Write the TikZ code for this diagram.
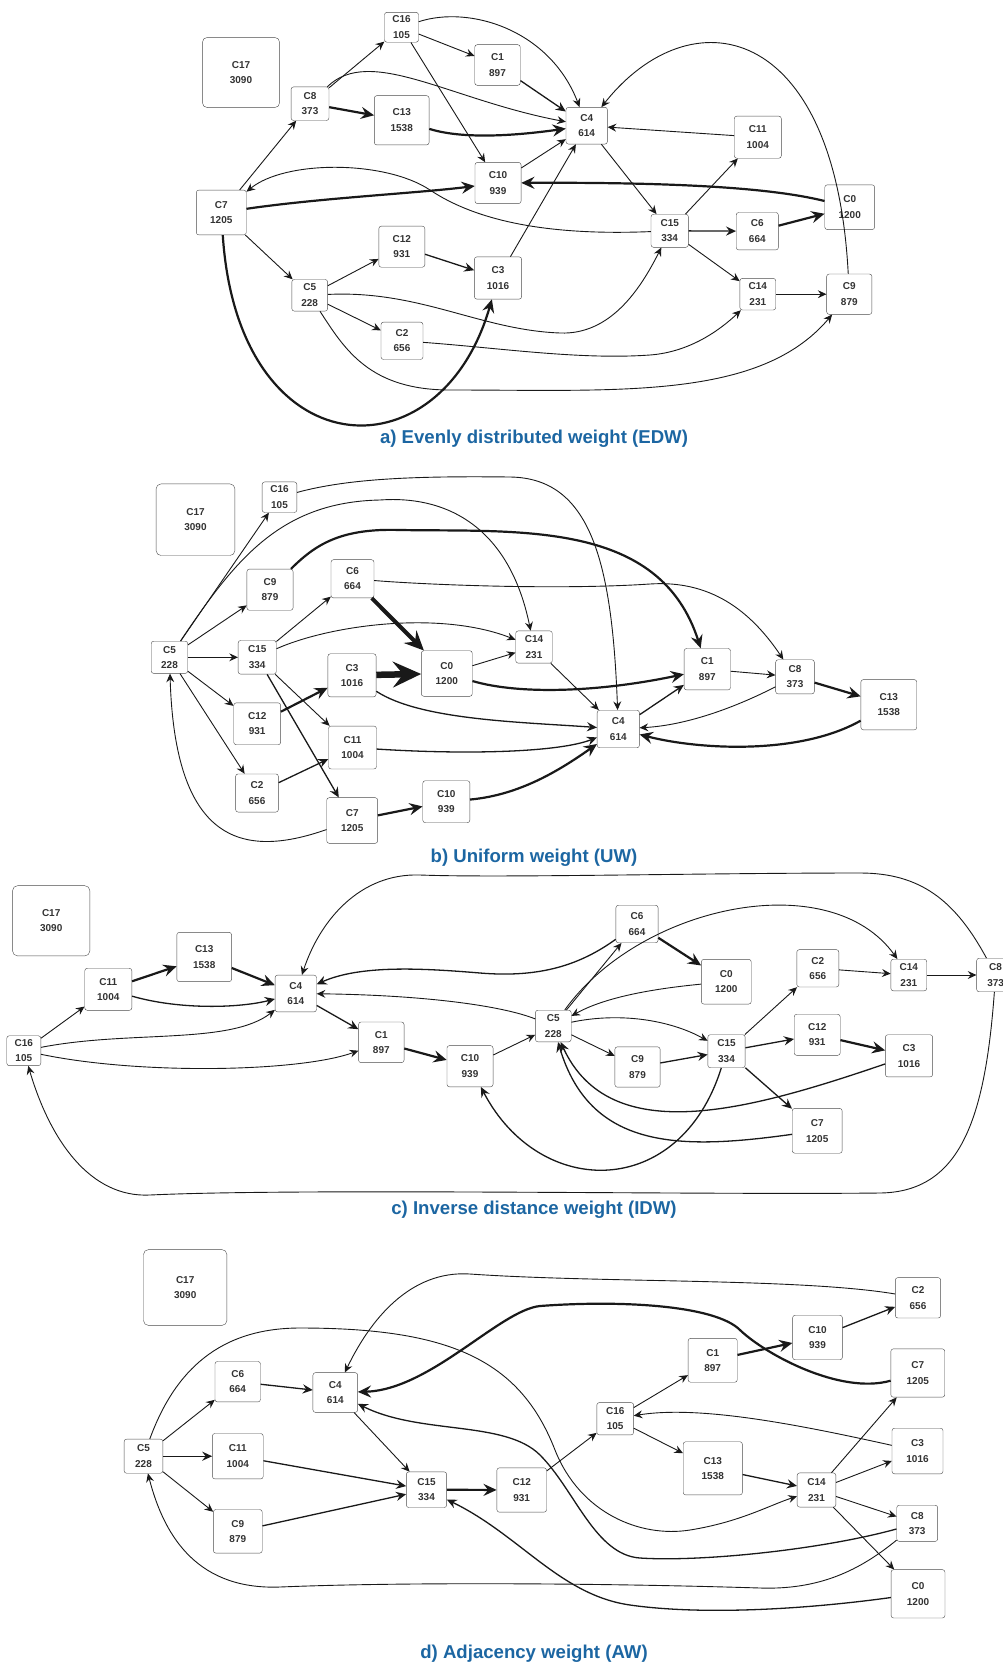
\documentclass[tikz,border=0pt]{standalone}
\usepackage{fontspec}
\setmainfont{Liberation Sans}
\usepackage{xcolor}
\usepackage{tikz}
\usetikzlibrary{arrows.meta}

\definecolor{capblue}{RGB}{28,102,162}
\newcommand{\cbxscale}{1}
\newcommand{\cnfont}{\fontsize{10}{15.5}\selectfont\bfseries}
\newcommand{\cpfont}{\fontsize{18.6}{22}\selectfont\bfseries}

\begin{document}
\begin{tikzpicture}[x=1pt, y=-1pt,
  cbox/.style={draw=black!70, fill=white, rounded corners=2.5pt, inner sep=0pt,
               align=center, font=\cnfont, text=black!80,
               minimum width={\cbxscale*(32.5pt+0.0145pt*#1)},
               minimum height={\cbxscale*(28.5pt+0.0135pt*#1)}},
  bigbox/.style={rounded corners=5pt},
  arr/.style={-{Stealth[length=5.5pt 3.5, width=5pt 3.2, inset=1.8pt 1.3]},
              line width=0.9pt, black!90},
  arrm/.style={arr, line width=1.3pt},
  arrt/.style={arr, line width=2.2pt},
  arrx/.style={arr, line width=4pt},
  arrxx/.style={arr, line width=6.5pt},
  captxt/.style={anchor=base, font=\cpfont, text=capblue}
]
\useasboundingbox (0,0) rectangle (1003,1662);

% Panel a: EDW
\node[cbox=3090, bigbox] (a17) at (241,72.5) {C17\\3090};
\node[cbox=373] (a8) at (310,103.7) {C8\\373};
\node[cbox=105] (a16) at (401.5,27.3) {C16\\105};
\node[cbox=897] (a1) at (497.5,65) {C1\\897};
\node[cbox=1538] (a13) at (401.7,120.3) {C13\\1538};
\node[cbox=614] (a4) at (586.7,125.7) {C4\\614};
\node[cbox=939] (a10) at (498,183) {C10\\939};
\node[cbox=1205] (a7) at (221.3,212.5) {C7\\1205};
\node[cbox=931] (a12) at (401.8,246.7) {C12\\931};
\node[cbox=1016] (a3) at (498,278) {C3\\1016};
\node[cbox=228] (a5) at (309.7,295.3) {C5\\228};
\node[cbox=656] (a2) at (402,340.8) {C2\\656};
\node[cbox=1004] (a11) at (757.8,137.2) {C11\\1004};
\node[cbox=1200] (a0) at (849.7,207.2) {C0\\1200};
\node[cbox=334] (a15) at (669.7,230.8) {C15\\334};
\node[cbox=664] (a6) at (757.3,231.2) {C6\\664};
\node[cbox=231] (a14) at (757.8,294.2) {C14\\231};
\node[cbox=879] (a9) at (849.3,294.2) {C9\\879};

\draw[arr] (a7) -- (a8);
\draw[arr] (a8) -- (a16);
\draw[arrt] (a8) -- (a13);
\draw[arr] (a8) .. controls (370,45) and (450,100) .. (a4);
\draw[arr] (a16) -- (a1);
\draw[arr] (a16) .. controls (470,5) and (550,30) .. (a4);
\draw[arr] (a16) -- (a10);
\draw[arrm] (a1) -- (a4);
\draw[arrt] (a13) .. controls (465,140) and (520,135) .. (a4);
\draw[arr] (a10) -- (a4);
\draw[arr] (a3) -- (a4);
\draw[arrt] (a7) .. controls (320,198) and (420,193) .. (a10);
\draw[arr] (a15) .. controls (545,236) and (475,220) .. (430,190)
  .. controls (385,160) and (285,160) .. (a7);
\draw[arrt] (a0) .. controls (780,190) and (700,182) .. (a10);
\draw[arrt] (a7) .. controls (238,470) and (440,480) .. (a3);
\draw[arr] (a5) -- (a12);
\draw[arrm] (a12) -- (a3);
\draw[arr] (a5) -- (a2);
\draw[arr] (a7) -- (a5);
\draw[arr] (a5) .. controls (420,290) and (480,330) .. (560,333)
  .. controls (610,335) and (640,290) .. (a15);
\draw[arr] (a2) .. controls (500,348) and (580,360) .. (650,355)
  .. controls (690,352) and (720,330) .. (a14);
\draw[arr] (a5) .. controls (345,350) and (370,390) .. (450,390)
  .. controls (620,390) and (760,400) .. (a9);
\draw[arr] (a9) .. controls (835,20) and (690,-5) .. (a4);
\draw[arr] (a11) -- (a4);
\draw[arr] (a4) -- (a15);
\draw[arr] (a15) -- (a11);
\draw[arrm] (a15) -- (a6);
\draw[arrt] (a6) -- (a0);
\draw[arr] (a15) -- (a14);
\draw[arr] (a14) -- (a9);

\node[captxt] (capa) at (534,443) {a) Evenly distributed weight (EDW)};

% Panel b: UW
\begin{scope}
\renewcommand{\cbxscale}{1.02}
\node[cbox=3090, bigbox] (b17) at (195.5,519.7) {C17\\3090};
\node[cbox=105] (b16) at (279.5,497.2) {C16\\105};
\node[cbox=879] (b9) at (270,589.7) {C9\\879};
\node[cbox=664] (b6) at (352.5,578.8) {C6\\664};
\node[cbox=228] (b5) at (169.5,657.3) {C5\\228};
\node[cbox=334] (b15) at (257.2,657.3) {C15\\334};
\node[cbox=1016] (b3) at (352,675.3) {C3\\1016};
\node[cbox=1200] (b0) at (446.8,673.5) {C0\\1200};
\node[cbox=231] (b14) at (534,647) {C14\\231};
\node[cbox=931] (b12) at (257.2,723.8) {C12\\931};
\node[cbox=1004] (b11) at (352.5,747.5) {C11\\1004};
\node[cbox=656] (b2) at (257,793) {C2\\656};
\node[cbox=1205] (b7) at (352.2,820.5) {C7\\1205};
\node[cbox=939] (b10) at (446.3,801.7) {C10\\939};
\node[cbox=614] (b4) at (618.3,729) {C4\\614};
\node[cbox=897] (b1) at (707.3,669.2) {C1\\897};
\node[cbox=373] (b8) at (795,676.8) {C8\\373};
\node[cbox=1538] (b13) at (888.8,704.7) {C13\\1538};
\end{scope}

\draw[arr] (b5) -- (b16);
\draw[arr] (b5) .. controls (235,560) and (280,502) .. (380,500)
  .. controls (450,495) and (510,530) .. (b14);
\draw[arr] (b16) .. controls (350,478) and (420,476) .. (510,477)
  .. controls (590,478) and (612,560) .. (b4);
\draw[arr] (b5) -- (b9);
\draw[arr] (b5) -- (b15);
\draw[arr] (b5) -- (b12);
\draw[arr] (b5) -- (b2);
\draw[arr] (b7) .. controls (240,860) and (175,840) .. (b5);
\draw[arrt] (b9) .. controls (315,545) and (340,528) .. (400,530)
  .. controls (520,532) and (660,520) .. (b1);
\draw[arr] (b6) .. controls (430,585) and (560,590) .. (650,584)
  .. controls (710,580) and (750,610) .. (b8);
\draw[arrx] (b6) -- (b0);
\draw[arr] (b15) -- (b6);
\draw[arr] (b15) .. controls (330,625) and (440,610) .. (b14);
\draw[arr] (b15) -- (b11);
\draw[arrm] (b15) -- (b7);
\draw[arrt] (b12) -- (b3);
\draw[arrm] (b2) -- (b11);
\draw[arrxx] (b3) -- (b0);
\draw[arr] (b0) -- (b14);
\draw[arrt] (b0) .. controls (520,695) and (600,692) .. (b1);
\draw[arrm] (b3) .. controls (420,720) and (520,722) .. (b4);
\draw[arrm] (b11) .. controls (470,755) and (560,752) .. (b4);
\draw[arrt] (b10) .. controls (520,795) and (560,770) .. (b4);
\draw[arrt] (b7) -- (b10);
\draw[arr] (b14) -- (b4);
\draw[arrm] (b4) -- (b1);
\draw[arr] (b1) -- (b8);
\draw[arrt] (b8) -- (b13);
\draw[arr] (b8) .. controls (740,705) and (690,725) .. (b4);
\draw[arrt] (b13) .. controls (800,755) and (700,750) .. (b4);

\node[captxt] (capb) at (534,862) {b) Uniform weight (UW)};

% Panel c: IDW
\node[cbox=3090, bigbox] (c17) at (51.2,920.8) {C17\\3090};
\node[cbox=1538] (c13) at (204.2,957) {C13\\1538};
\node[cbox=1004] (c11) at (108.3,989.3) {C11\\1004};
\node[cbox=614] (c4) at (295.8,993.5) {C4\\614};
\node[cbox=105] (c16) at (23.8,1050.7) {C16\\105};
\node[cbox=897] (c1) at (381.3,1042.3) {C1\\897};
\node[cbox=939] (c10) at (470,1066.2) {C10\\939};
\node[cbox=664] (c6) at (637,924) {C6\\664};
\node[cbox=1200] (c0) at (726.3,981.7) {C0\\1200};
\node[cbox=228] (c5) at (553.3,1026) {C5\\228};
\node[cbox=879] (c9) at (637.5,1067) {C9\\879};
\node[cbox=334] (c15) at (726.5,1051.2) {C15\\334};
\node[cbox=656] (c2) at (817.8,968.3) {C2\\656};
\node[cbox=931] (c12) at (817.2,1034.8) {C12\\931};
\node[cbox=1205] (c7) at (817.2,1130.8) {C7\\1205};
\node[cbox=231] (c14) at (908.8,975) {C14\\231};
\node[cbox=1016] (c3) at (909,1055.8) {C3\\1016};
\node[cbox=373] (c8) at (995.6,975) {C8\\373};

\draw[arr] (c16) -- (c11);
\draw[arrt] (c11) -- (c13);
\draw[arrt] (c13) -- (c4);
\draw[arrm] (c11) .. controls (180,1010) and (240,1008) .. (c4);
\draw[arr] (c16) .. controls (130,1030) and (230,1045) .. (c4);
\draw[arr] (c16) .. controls (140,1075) and (300,1072) .. (c1);
\draw[arrm] (c4) -- (c1);
\draw[arrt] (c1) -- (c10);
\draw[arr] (c10) -- (c5);
\draw[arrm] (c15) .. controls (680,1200) and (540,1200) .. (c10);
\draw[arr] (c8) .. controls (955,900) and (920,873) .. (860,873)
  .. controls (700,873) and (500,878) .. (420,875)
  .. controls (360,873) and (320,920) .. (c4);
\draw[arrm] (c6) .. controls (580,965) and (540,978) .. (480,973)
  .. controls (420,968) and (360,965) .. (c4);
\draw[arr] (c5) .. controls (500,1005) and (420,995) .. (c4);
\draw[arr] (c8) .. controls (985,1120) and (960,1192) .. (880,1193)
  .. controls (700,1195) and (300,1188) .. (150,1195)
  .. controls (90,1198) and (50,1140) .. (c16);
\draw[arr] (c5) -- (c6);
\draw[arrt] (c6) -- (c0);
\draw[arr] (c0) .. controls (640,990) and (600,1000) .. (c5);
\draw[arr] (c5) .. controls (640,905) and (830,865) .. (c14);
\draw[arr] (c5) .. controls (620,1012) and (670,1020) .. (c15);
\draw[arr] (c5) -- (c9);
\draw[arrm] (c9) -- (c15);
\draw[arr] (c15) -- (c2);
\draw[arrm] (c15) -- (c12);
\draw[arrm] (c15) -- (c7);
\draw[arrt] (c12) -- (c3);
\draw[arr] (c2) -- (c14);
\draw[arr] (c14) -- (c8);
\draw[arrm] (c3) .. controls (750,1110) and (610,1150) .. (c5);
\draw[arrm] (c7) .. controls (680,1150) and (590,1150) .. (c5);

\node[captxt] (capc) at (534,1214) {c) Inverse distance weight (IDW)};

% Panel d: AW
\begin{scope}
\renewcommand{\cbxscale}{1.08}
\node[cbox=3090, bigbox] (d17) at (185.2,1287.5) {C17\\3090};
\node[cbox=664] (d6) at (237.7,1381.7) {C6\\664};
\node[cbox=614] (d4) at (335.3,1392.5) {C4\\614};
\node[cbox=228] (d5) at (143.5,1456.2) {C5\\228};
\node[cbox=1004] (d11) at (237.8,1456.2) {C11\\1004};
\node[cbox=879] (d9) at (237.8,1531.3) {C9\\879};
\node[cbox=334] (d15) at (426.5,1489.7) {C15\\334};
\node[cbox=931] (d12) at (521.7,1490) {C12\\931};
\node[cbox=105] (d16) at (615.2,1418.7) {C16\\105};
\node[cbox=897] (d1) at (712.7,1360.3) {C1\\897};
\node[cbox=939] (d10) at (817.5,1337.5) {C10\\939};
\node[cbox=656] (d2) at (918,1297.8) {C2\\656};
\node[cbox=1205] (d7) at (917.8,1373) {C7\\1205};
\node[cbox=1538] (d13) at (712.8,1468.3) {C13\\1538};
\node[cbox=231] (d14) at (816.5,1490) {C14\\231};
\node[cbox=1016] (d3) at (917.5,1451) {C3\\1016};
\node[cbox=373] (d8) at (917.2,1523.3) {C8\\373};
\node[cbox=1200] (d0) at (918,1593.8) {C0\\1200};
\end{scope}

\draw[arr] (d5) -- (d6);
\draw[arrm] (d5) -- (d11);
\draw[arr] (d5) -- (d9);
\draw[arrm] (d6) -- (d4);
\draw[arrm] (d11) -- (d15);
\draw[arrm] (d9) -- (d15);
\draw[arr] (d4) -- (d15);
\draw[arrt] (d15) -- (d12);
\draw[arr] (d12) -- (d16);
\draw[arr] (d16) -- (d1);
\draw[arr] (d16) -- (d13);
\draw[arrt] (d1) -- (d10);
\draw[arrm] (d10) -- (d2);
\draw[arrm] (d13) -- (d14);
\draw[arr] (d14) -- (d7);
\draw[arr] (d14) -- (d3);
\draw[arr] (d14) -- (d8);
\draw[arr] (d14) -- (d0);
\draw[arr] (d3) .. controls (800,1425) and (700,1405) .. (d16);
\draw[arr] (d2) .. controls (800,1278) and (600,1283) .. (470,1274)
  .. controls (410,1270) and (370,1320) .. (d4);
\draw[arrt] (d7) .. controls (840,1395) and (765,1354) .. (740,1330)
  .. controls (715,1305) and (620,1300) .. (540,1306)
  .. controls (500,1310) and (430,1390) .. (d4);
\draw[arrm] (d8) .. controls (820,1550) and (700,1562) .. (640,1558)
  .. controls (595,1555) and (575,1490) .. (540,1455)
  .. controls (505,1420) and (420,1435) .. (d4);
\draw[arr] (d5) .. controls (175,1370) and (220,1328) .. (300,1328)
  .. controls (450,1328) and (520,1360) .. (555,1450)
  .. controls (580,1513) and (640,1538) .. (690,1530)
  .. controls (740,1522) and (770,1505) .. (d14);
\draw[arr] (d8) .. controls (860,1570) and (820,1590) .. (760,1588)
  .. controls (600,1583) and (400,1582) .. (280,1587)
  .. controls (200,1590) and (165,1540) .. (d5);
\draw[arrm] (d0) .. controls (800,1610) and (700,1615) .. (630,1605)
  .. controls (560,1595) and (520,1535) .. (d15);

\node[captxt] (capd) at (534,1658.5) {d) Adjacency weight (AW)};
\end{tikzpicture}
\end{document}
